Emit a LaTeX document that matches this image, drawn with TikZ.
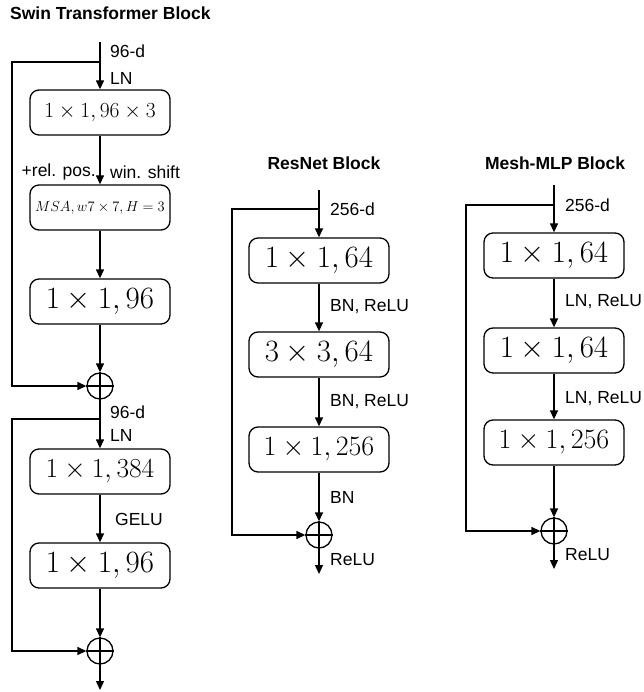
\RequirePackage{fix-cm}
\documentclass[tikz,border=0pt]{standalone}
\usepackage{fontspec}
\newfontfamily\lblfont{Liberation Sans}
\usepackage{tikz}
\usetikzlibrary{arrows.meta,positioning,calc}

\begin{document}
\begin{tikzpicture}[x=1pt,y=-1pt,
    blk/.style={draw, line width=1.3pt, rounded corners=9pt, minimum width=140pt, minimum height=45pt, inner sep=0pt},
    plus/.style={draw, line width=1.3pt, circle, minimum size=26pt, inner sep=0pt},
    lbl/.style={anchor=west, inner sep=0pt, font=\lblfont\fontsize{17.5}{18}\selectfont},
    ttl/.style={inner sep=0pt, font=\lblfont\bfseries\fontsize{17.5}{18}\selectfont},
    arr/.style={line width=1.3pt, -{Triangle[length=9pt,width=8pt]}},
    ln/.style={line width=1.3pt}]
    \useasboundingbox (0,0) rectangle (643,692);

    % Swin Transformer block
    \node[ttl, anchor=west] (swtitle) at (10,13) {Swin Transformer Block};
    \coordinate (swin) at (100,42);
    \coordinate (swsk1) at (100,62);
    \node[blk, font=\fontsize{21.5}{22}\selectfont] (qkv) at (100,112.5) {$1\times1, 96\times3$};
    \node[blk, font=\fontsize{14.5}{15}\selectfont] (msa) at (100,207.5) {$MSA, w7\times7, H=3$};
    \node[blk, font=\fontsize{31}{31}\selectfont] (proj) at (100,301.5) {$1\times1, 96$};
    \node[plus] (swadd1) at (100,386) {};
    \coordinate (swsk2) at (100,419);
    \node[blk, font=\fontsize{27.5}{28}\selectfont] (fc1) at (100,471.5) {$1\times1, 384$};
    \node[blk, font=\fontsize{31}{31}\selectfont] (fc2) at (100,565.5) {$1\times1, 96$};
    \node[plus] (swadd2) at (100,651) {};
    \coordinate (swout) at (100,690);

    \draw[arr] (swin) -- (qkv);
    \draw[arr] (qkv) -- (msa);
    \draw[arr] (msa) -- (proj);
    \draw[arr] (proj) -- (swadd1);
    \draw[arr] (swsk1) -- ++(-88,0) |- (swadd1);
    \draw[arr] (swadd1) -- (fc1);
    \draw[arr] (fc1) -- (fc2);
    \draw[arr] (fc2) -- (swadd2);
    \draw[arr] (swsk2) -- ++(-88,0) |- (swadd2);
    \draw[arr] (swadd2) -- (swout);
    \draw[ln] (swadd1.north) -- (swadd1.south) (swadd1.west) -- (swadd1.east);
    \draw[ln] (swadd2.north) -- (swadd2.south) (swadd2.west) -- (swadd2.east);

    \node[lbl] (swdim1) at (110,51) {96-d};
    \node[lbl] (swln1) at (110,78) {LN};
    \node[lbl, anchor=east] (swpos) at (96,172) {+rel. pos.};
    \node[lbl] (swshift) at (110,172) {win. shift};
    \node[lbl] (swdim2) at (110,412) {96-d};
    \node[lbl] (swln2) at (110,435) {LN};
    \node[lbl] (swgelu) at (115,519) {GELU};

    % ResNet block
    \node[ttl] (rntitle) at (324,163) {ResNet Block};
    \coordinate (rnin) at (319,190);
    \coordinate (rnsk) at (319,209);
    \node[blk, font=\fontsize{31}{31}\selectfont] (rnc1) at (319,260.5) {$1\times1, 64$};
    \node[blk, font=\fontsize{31}{31}\selectfont] (rnc2) at (319,354.5) {$3\times3, 64$};
    \node[blk, font=\fontsize{28}{28}\selectfont] (rnc3) at (319,449.5) {$1\times1, 256$};
    \node[plus] (rnadd) at (319,535) {};
    \coordinate (rnout) at (319,574);

    \draw[arr] (rnin) -- (rnc1);
    \draw[arr] (rnc1) -- (rnc2);
    \draw[arr] (rnc2) -- (rnc3);
    \draw[arr] (rnc3) -- (rnadd);
    \draw[arr] (rnsk) -- ++(-87,0) |- (rnadd);
    \draw[arr] (rnadd) -- (rnout);
    \draw[ln] (rnadd.north) -- (rnadd.south) (rnadd.west) -- (rnadd.east);

    \node[lbl] (rndim) at (330,209) {256-d};
    \node[lbl] (rnact1) at (330,307) {BN, ReLU};
    \node[lbl] (rnact2) at (330,402) {BN, ReLU};
    \node[lbl] (rnbn) at (330,497) {BN};
    \node[lbl] (rnrelu) at (330,560) {ReLU};

    % Mesh-MLP block
    \node[ttl] (mmtitle) at (555,163) {Mesh-MLP Block};
    \coordinate (mmin) at (554,185);
    \coordinate (mmsk) at (554,205);
    \node[blk, font=\fontsize{31}{31}\selectfont] (mmf1) at (554,255.5) {$1\times1, 64$};
    \node[blk, font=\fontsize{31}{31}\selectfont] (mmf2) at (554,350.5) {$1\times1, 64$};
    \node[blk, font=\fontsize{28}{28}\selectfont] (mmf3) at (554,442.5) {$1\times1, 256$};
    \node[plus] (mmadd) at (554,531) {};
    \coordinate (mmout) at (554,569);

    \draw[arr] (mmin) -- (mmf1);
    \draw[arr] (mmf1) -- (mmf2);
    \draw[arr] (mmf2) -- (mmf3);
    \draw[arr] (mmf3) -- (mmadd);
    \draw[arr] (mmsk) -- ++(-88,0) |- (mmadd);
    \draw[arr] (mmadd) -- (mmout);
    \draw[ln] (mmadd.north) -- (mmadd.south) (mmadd.west) -- (mmadd.east);

    \node[lbl] (mmdim) at (565,205) {256-d};
    \node[lbl] (mmact1) at (565,302) {LN, ReLU};
    \node[lbl] (mmact2) at (565,399) {LN, ReLU};
    \node[lbl] (mmrelu) at (565,555) {ReLU};
\end{tikzpicture}
\end{document}
